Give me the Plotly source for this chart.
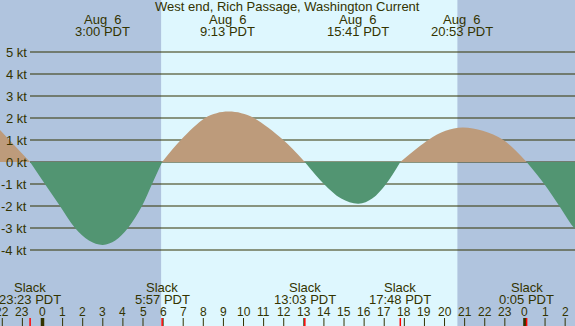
import plotly.graph_objects as go

# ---- data (hours relative to midnight Aug 6, PDT; knots) ----
title = "West end, Rich Passage, Washington Current"
x_start, x_end = -2.114, 26.49
sunrise, sunset = 5.90, 20.64

flood0_t = [-2.114, -1.65, -0.617]
flood0_v = [1.45, 1.0, 0.0]
ebb1_t = [-0.617, 0.12, 0.87, 1.62, 2.31, 3.0, 3.62, 4.25, 4.95, 5.45, 5.95]
ebb1_v = [0.0, -1.0, -2.0, -3.0, -3.57, -3.77, -3.57, -3.0, -2.0, -1.0, 0.0]
flood1_t = [5.95, 6.88, 8.08, 8.66, 9.25, 9.89, 10.52, 11.98, 13.05]
flood1_v = [0.0, 1.0, 2.0, 2.22, 2.29, 2.22, 2.0, 1.0, 0.0]
ebb2_t = [13.05, 14.0, 14.86, 15.72, 16.4, 17.09, 17.8]
ebb2_v = [0.0, -1.0, -1.66, -1.9, -1.66, -1.0, 0.0]
flood2_t = [17.8, 19.19, 20.05, 20.9, 21.9, 22.93, 24.083]
flood2_v = [0.0, 1.0, 1.42, 1.57, 1.42, 1.0, 0.0]
ebb3_t = [24.083, 24.96, 25.71, 26.46, 26.6]
ebb3_v = [0.0, -1.0, -2.0, -3.0, -3.05]

kt_levels = [5, 4, 3, 2, 1, 0, -1, -2, -3, -4]

top_times = [3.0, 9.2167, 15.6833, 20.8833]
top_labels = ["3:00 PDT", "9:13 PDT", "15:41 PDT", "20:53 PDT"]
top_date = "Aug  6"

slack_times = [-0.6167, 5.95, 13.05, 17.8, 24.0833]
slack_labels = ["23:23 PDT", "5:57 PDT", "13:03 PDT", "17:48 PDT", "0:05 PDT"]

hour_ticks = list(range(-2, 27))
hour_labels = [str(h % 24) for h in hour_ticks]
midnights = [0, 24]

# ---- styling ----
W, H = 575, 326
day_col = "#DEF7FE"
night_col = "#B0C4DE"
flood_col = "#BD9B7B"
ebb_col = "#529572"
ink = "#333300"
font = "Liberation Sans, Arial, sans-serif"

zero_px = 162.0
px_per_kt = 22.0
y_lo = -(H - zero_px) / px_per_kt
y_hi = zero_px / px_per_kt

fig = go.Figure()
segments = [(flood0_t, flood0_v, flood_col), (ebb1_t, ebb1_v, ebb_col),
            (flood1_t, flood1_v, flood_col), (ebb2_t, ebb2_v, ebb_col),
            (flood2_t, flood2_v, flood_col), (ebb3_t, ebb3_v, ebb_col)]
for t, v, c in segments:
    fig.add_trace(go.Scatter(x=t, y=v, mode="lines", fill="tozeroy",
                             fillcolor=c, line=dict(width=0, color=c, shape="spline", smoothing=1.0),
                             hoverinfo="skip", showlegend=False))

shapes = []
# night bands
shapes.append(dict(type="rect", xref="x", yref="paper", x0=x_start - 1, x1=sunrise,
                   y0=0, y1=1, fillcolor=night_col, line=dict(width=0), layer="below"))
shapes.append(dict(type="rect", xref="x", yref="paper", x0=sunset, x1=x_end + 1,
                   y0=0, y1=1, fillcolor=night_col, line=dict(width=0), layer="below"))
# level lines
for k in kt_levels:
    shapes.append(dict(type="line", xref="paper", yref="y", x0=30 / W, x1=1, y0=k, y1=k,
                       line=dict(color=ink, width=1.2), layer="below"))
# hour ticks
tick_h = 8 / H
for h in hour_ticks:
    w = 3.5 if h in midnights else 1
    shapes.append(dict(type="line", xref="x", yref="paper", x0=h, x1=h, y0=0, y1=tick_h,
                       line=dict(color=ink, width=w)))
for s in slack_times:
    shapes.append(dict(type="line", xref="x", yref="paper", x0=s, x1=s, y0=0, y1=tick_h,
                       line=dict(color="#FF0000", width=1.5)))

ann = []
ann.append(dict(text=title, xref="paper", yref="paper", x=0.5, y=1 - 7 / H,
                showarrow=False, xanchor="center", yanchor="middle",
                font=dict(family=font, size=13, color=ink)))
for t, lab in zip(top_times, top_labels):
    ann.append(dict(text=top_date, xref="x", yref="paper", x=t, y=1 - 19 / H, showarrow=False,
                    xanchor="center", yanchor="middle", font=dict(family=font, size=13, color=ink)))
    ann.append(dict(text=lab, xref="x", yref="paper", x=t, y=1 - 31 / H, showarrow=False,
                    xanchor="center", yanchor="middle", font=dict(family=font, size=13, color=ink)))
for t, lab in zip(slack_times, slack_labels):
    ann.append(dict(text="Slack", xref="x", yref="paper", x=t, y=1 - 287.5 / H, showarrow=False,
                    xanchor="center", yanchor="middle", font=dict(family=font, size=13, color=ink)))
    ann.append(dict(text=lab, xref="x", yref="paper", x=t, y=1 - 299.5 / H, showarrow=False,
                    xanchor="center", yanchor="middle", font=dict(family=font, size=13, color=ink)))
for h, lab in zip(hour_ticks, hour_labels):
    ann.append(dict(text=lab, xref="x", yref="paper", x=h, y=1 - 312 / H, showarrow=False,
                    xanchor="center", yanchor="middle", font=dict(family=font, size=12, color=ink)))
for k in kt_levels:
    ann.append(dict(text=f"{k} kt", xref="paper", yref="y", x=28.5 / W, y=k, showarrow=False,
                    xanchor="right", yanchor="middle", font=dict(family=font, size=13, color=ink)))

fig.update_layout(
    width=W, height=H, margin=dict(l=0, r=0, t=0, b=0),
    paper_bgcolor=day_col, plot_bgcolor=day_col,
    xaxis=dict(range=[x_start, x_end], visible=False, fixedrange=True),
    yaxis=dict(range=[y_lo, y_hi], visible=False, fixedrange=True),
    shapes=shapes, annotations=ann, showlegend=False,
)
fig.write_html("out.html", config={"displayModeBar": False},
               post_script="document.body.style.margin='0px';document.body.style.overflow='hidden';")
